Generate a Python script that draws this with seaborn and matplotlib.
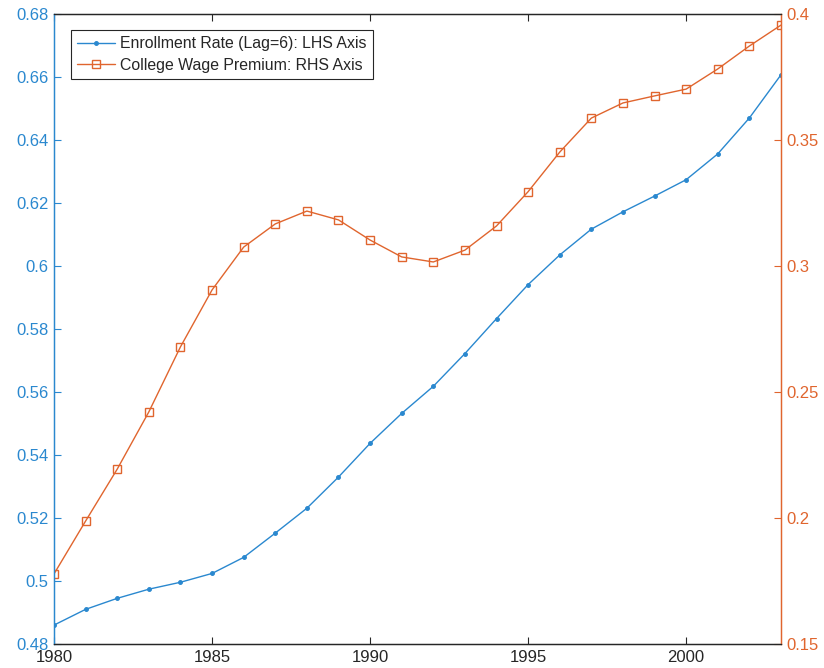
import numpy as np
import pandas as pd
import matplotlib
matplotlib.use("Agg")
import matplotlib.pyplot as plt
import seaborn as sns

years = list(range(1980, 2004))
enrollment = [0.4860, 0.4910, 0.4945, 0.4974, 0.4996, 0.5024, 0.5075, 0.5152,
              0.5231, 0.5330, 0.5437, 0.5532, 0.5618, 0.5722, 0.5833, 0.5941,
              0.6035, 0.6117, 0.6172, 0.6222, 0.6274, 0.6356, 0.6470, 0.6607]
premium = [0.1778, 0.1988, 0.2194, 0.2421, 0.2679, 0.2905, 0.3075, 0.3167,
           0.3218, 0.3183, 0.3103, 0.3036, 0.3016, 0.3063, 0.3159, 0.3295,
           0.3452, 0.3587, 0.3647, 0.3675, 0.3702, 0.3782, 0.3873, 0.3956]
left_ticks = [0.48, 0.5, 0.52, 0.54, 0.56, 0.58, 0.6, 0.62, 0.64, 0.66, 0.68]
left_labels = ["0.48", "0.5", "0.52", "0.54", "0.56", "0.58", "0.6", "0.62", "0.64", "0.66", "0.68"]
right_ticks = [0.15, 0.2, 0.25, 0.3, 0.35, 0.4]
right_labels = ["0.15", "0.2", "0.25", "0.3", "0.35", "0.4"]
x_ticks = [1980, 1985, 1990, 1995, 2000]

df = pd.DataFrame({"year": years, "enroll": enrollment, "prem": premium})

sns.set_theme(style="white")
plt.rcParams['font.family'] = ['Liberation Sans', 'DejaVu Sans']

BLUE = "#2a88cf"
ORANGE = "#e0652e"
GRAY = "#262626"

fig = plt.figure(figsize=(8.24, 6.68), dpi=100)
ax = fig.add_axes([54/824, 24/668, (781-54)/824, (644-14)/668])
ax2 = ax.twinx()

sns.lineplot(data=df, x="year", y="enroll", ax=ax, color=BLUE, marker=".",
             markersize=5.5, linewidth=1.0, markeredgecolor=BLUE,
             label="Enrollment Rate (Lag=6): LHS Axis", legend=False)
sns.lineplot(data=df, x="year", y="prem", ax=ax2, color=ORANGE, marker="s",
             markersize=6, linewidth=1.0, markerfacecolor="none",
             markeredgecolor=ORANGE, markeredgewidth=1.0,
             label="College Wage Premium: RHS Axis", legend=False)

ax.set_xlim(1980, 2003)
ax.set_ylim(0.48, 0.68)
ax2.set_ylim(0.15, 0.4)
ax.set_xticks(x_ticks)
ax.set_xticklabels([str(t) for t in x_ticks])
ax.set_yticks(left_ticks)
ax.set_yticklabels(left_labels)
ax2.set_yticks(right_ticks)
ax2.set_yticklabels(right_labels)
ax.set_xlabel("")
ax.set_ylabel("")
ax2.set_ylabel("")

for a in (ax, ax2):
    for s in a.spines.values():
        s.set_visible(True)
        s.set_linewidth(0.9)
    a.spines["top"].set_color(GRAY)
    a.spines["bottom"].set_color(GRAY)
    a.spines["left"].set_color(BLUE)
    a.spines["right"].set_color(ORANGE)

ax.tick_params(axis="x", direction="in", length=5, width=0.8, colors=GRAY,
               labelsize=12, top=True, bottom=True, pad=4)
ax.tick_params(axis="y", direction="in", length=5, width=0.8, colors=BLUE,
               labelsize=12, left=True, right=False, pad=4)
ax2.tick_params(axis="y", direction="in", length=5, width=0.8, colors=ORANGE,
                labelsize=12, right=True, left=False, pad=4)

h1, l1 = ax.get_legend_handles_labels()
h2, l2 = ax2.get_legend_handles_labels()
leg = ax2.legend(h1 + h2, l1 + l2, loc="upper left",
                 bbox_to_anchor=(0.0234, 0.9746), borderaxespad=0,
                 fontsize=11.4, frameon=True,
                 fancybox=False, edgecolor=GRAY, framealpha=1,
                 borderpad=0.4, handlelength=2.4, handletextpad=0.3,
                 labelspacing=0.4)
leg.get_frame().set_linewidth(0.8)

fig.savefig("out.png", dpi=100)
